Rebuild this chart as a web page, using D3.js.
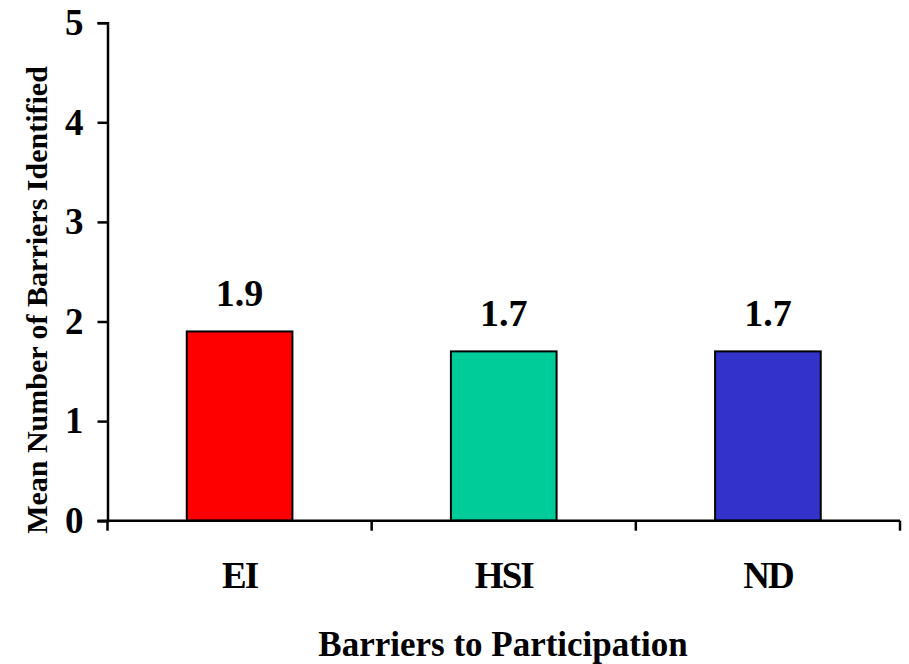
<!DOCTYPE html>
<html><head><meta charset="utf-8">
<script src="https://cdn.jsdelivr.net/npm/d3@7"></script>
<style>body{margin:0;background:#fff}svg{display:block}</style>
</head><body>
<script>
const categories = ["EI", "HSI", "ND"];
const values = [1.9, 1.7, 1.7];
const colors = ["#ff0000", "#00cc99", "#3333cc"];
const yTicks = [0, 1, 2, 3, 4, 5];
const xTitle = "Barriers to Participation";
const yTitle = "Mean Number of Barriers Identified";

const W = 909, H = 664;
const m = {left: 107.5, right: 9, top: 22.7, bottom: 143.3};
const svg = d3.select("body").append("svg").attr("width", W).attr("height", H);
const font = "'Liberation Serif','Times New Roman',Times,serif";

const x = d3.scaleBand().domain(categories).range([m.left, W - m.right]).paddingInner(0.6).paddingOuter(0.3);
const y = d3.scaleLinear().domain([0, 5]).range([H - m.bottom, m.top]);

// bars
svg.selectAll("rect.bar").data(categories).enter().append("rect")
  .attr("x", d => x(d)).attr("y", (d, i) => y(values[i]))
  .attr("width", x.bandwidth()).attr("height", (d, i) => y(0) - y(values[i]))
  .attr("fill", (d, i) => colors[i]).attr("stroke", "#000").attr("stroke-width", 2);

// value labels
svg.selectAll("text.val").data(categories).enter().append("text")
  .attr("x", d => x(d) + x.bandwidth() / 2).attr("y", (d, i) => y(values[i]) - 25)
  .attr("text-anchor", "middle").attr("font-family", font).attr("font-weight", "bold")
  .attr("font-size", 38).text((d, i) => values[i].toFixed(1));

// y axis
const ya = svg.append("g").attr("transform", `translate(${m.left},0)`)
  .call(d3.axisLeft(y).tickValues(yTicks).tickSize(10).tickPadding(14).tickFormat(d3.format("d")));
ya.select(".domain").attr("stroke-width", 2.5);
ya.selectAll(".tick line").attr("stroke-width", 2.5);
ya.selectAll("text").attr("font-family", font).attr("font-weight", "bold").attr("font-size", 37).attr("fill", "#000");

// x axis: ticks at band boundaries
const xa = svg.append("g").attr("transform", `translate(0,${y(0)})`);
xa.append("line").attr("x1", m.left - 10).attr("x2", W - m.right).attr("y1", 0).attr("y2", 0)
  .attr("stroke", "#000").attr("stroke-width", 2.5);
const step = x.step();
const bounds = d3.range(categories.length + 1).map(i => m.left + i * step);
xa.selectAll("line.t").data(bounds).enter().append("line")
  .attr("x1", d => d).attr("x2", d => d).attr("y1", 0).attr("y2", 10)
  .attr("stroke", "#000").attr("stroke-width", 2.5);
xa.selectAll("text.c").data(categories).enter().append("text")
  .attr("x", d => x(d) + x.bandwidth() / 2).attr("y", 67)
  .attr("text-anchor", "middle").attr("font-family", font).attr("font-weight", "bold")
  .attr("font-size", 37).attr("letter-spacing", -2).text(d => d);

// titles
svg.append("text").attr("x", 503).attr("y", 656).attr("text-anchor", "middle")
  .attr("font-family", font).attr("font-weight", "bold").attr("font-size", 35).text(xTitle);
svg.append("text").attr("transform", "translate(47,300) rotate(-90)").attr("text-anchor", "middle")
  .attr("font-family", font).attr("font-weight", "bold").attr("font-size", 30).text(yTitle);
</script>
</body></html>
